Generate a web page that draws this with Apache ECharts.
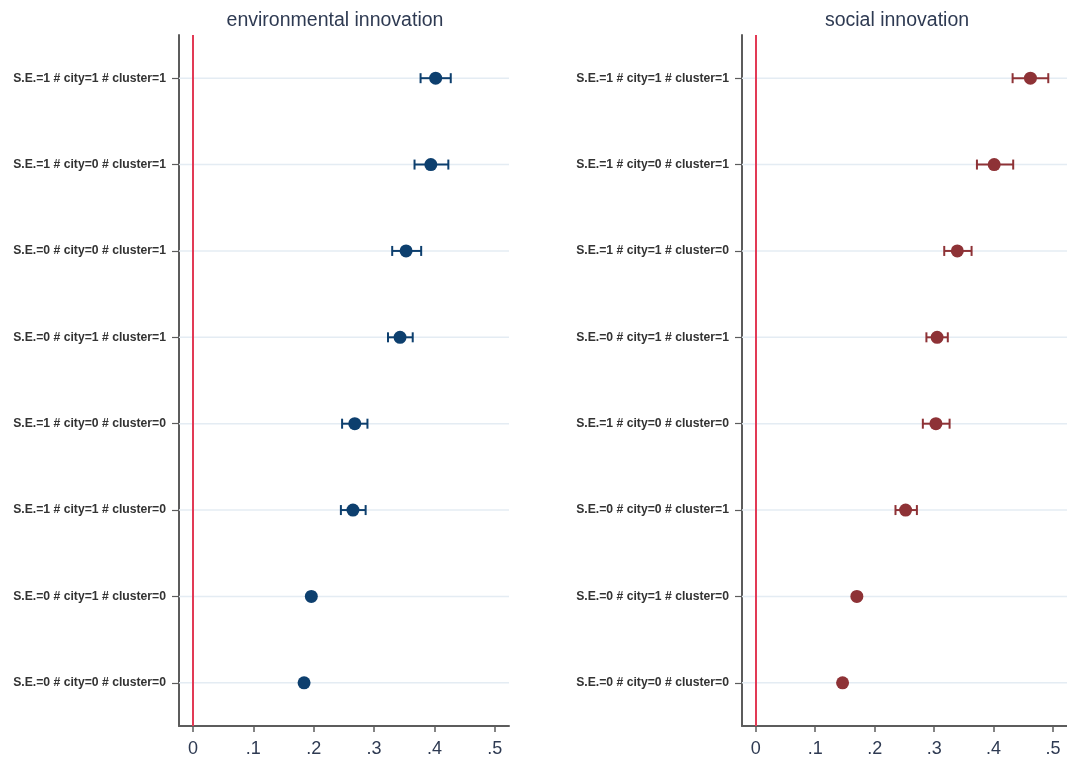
<!DOCTYPE html>
<html>
<head>
<meta charset="utf-8">
<script src="https://cdn.jsdelivr.net/npm/echarts@6/dist/echarts.min.js"></script>
<style>html,body{margin:0;padding:0;background:#fff}#c{width:1067px;height:765px}</style>
</head>
<body>
<div id="c"></div>
<script>
// ---- data ----
const envCategories = [
  'S.E.=1 # city=1 # cluster=1',
  'S.E.=1 # city=0 # cluster=1',
  'S.E.=0 # city=0 # cluster=1',
  'S.E.=0 # city=1 # cluster=1',
  'S.E.=1 # city=0 # cluster=0',
  'S.E.=1 # city=1 # cluster=0',
  'S.E.=0 # city=1 # cluster=0',
  'S.E.=0 # city=0 # cluster=0'
];
const envEstimate = [0.402, 0.394, 0.353, 0.343, 0.268, 0.265, 0.196, 0.184];
const envLower    = [0.377, 0.367, 0.330, 0.323, 0.247, 0.245, 0.191, 0.180];
const envUpper    = [0.427, 0.423, 0.378, 0.364, 0.289, 0.286, 0.201, 0.188];

const socCategories = [
  'S.E.=1 # city=1 # cluster=1',
  'S.E.=1 # city=0 # cluster=1',
  'S.E.=1 # city=1 # cluster=0',
  'S.E.=0 # city=1 # cluster=1',
  'S.E.=1 # city=0 # cluster=0',
  'S.E.=0 # city=0 # cluster=1',
  'S.E.=0 # city=1 # cluster=0',
  'S.E.=0 # city=0 # cluster=0'
];
const socEstimate = [0.462, 0.401, 0.339, 0.305, 0.303, 0.252, 0.170, 0.146];
const socLower    = [0.432, 0.372, 0.317, 0.287, 0.281, 0.235, 0.165, 0.142];
const socUpper    = [0.492, 0.433, 0.363, 0.323, 0.326, 0.271, 0.175, 0.150];

const xTicks = [0, 0.1, 0.2, 0.3, 0.4, 0.5];
const titles = ['environmental innovation', 'social innovation'];

// ---- styling / layout ----
const XMIN = -0.0232, XMAX = 0.5235;
const NAVY = '#0d3f6e', MAROON = '#8e3236', REFRED = '#e23a55';
const GRIDCOL = '#e4ecf3', AXISCOL = '#5c5c5c', TXT = '#2e3a52';

function panel(i, cats, est, lo, hi, color) {
  const idx = cats.map((_, k) => k);
  return [
    {
      type: 'custom', xAxisIndex: i, yAxisIndex: i, z: 1, silent: true,
      data: idx.map(k => [k]),
      encode: { y: 0 },
      renderItem: function (params, api) {
        const a = api.coord([XMIN, api.value(0)]);
        const b = api.coord([XMAX, api.value(0)]);
        return { type: 'line', shape: { x1: a[0], y1: a[1], x2: b[0], y2: b[1] },
                 style: { stroke: GRIDCOL, lineWidth: 1.5 } };
      }
    },
    {
      type: 'custom', xAxisIndex: i, yAxisIndex: i, z: 3, silent: true,
      data: idx.map(k => [lo[k], hi[k], k]),
      encode: { x: [0, 1], y: 2 },
      renderItem: function (params, api) {
        const a = api.coord([api.value(0), api.value(2)]);
        const b = api.coord([api.value(1), api.value(2)]);
        const h = 5;
        const st = { stroke: color, lineWidth: 2 };
        return { type: 'group', children: [
          { type: 'line', shape: { x1: a[0], y1: a[1], x2: b[0], y2: b[1] }, style: st },
          { type: 'line', shape: { x1: a[0], y1: a[1] - h, x2: a[0], y2: a[1] + h }, style: st },
          { type: 'line', shape: { x1: b[0], y1: b[1] - h, x2: b[0], y2: b[1] + h }, style: st }
        ]};
      }
    },
    {
      type: 'scatter', xAxisIndex: i, yAxisIndex: i, z: 4, silent: true,
      symbol: 'circle', symbolSize: 13,
      itemStyle: { color: color, opacity: 1 },
      data: idx.map(k => [est[k], k]),
      markLine: {
        silent: true, symbol: 'none', animation: false,
        label: { show: false },
        lineStyle: { color: REFRED, width: 2, type: 'solid' },
        data: [{ xAxis: 0 }]
      }
    }
  ];
}

const chart = echarts.init(document.getElementById('c'), null, { renderer: 'canvas' });
const gridTop = 35, gridH = 691, gridW = 330;
chart.setOption({
  animation: false,
  backgroundColor: '#ffffff',
  title: [
    { text: titles[0], left: 330, top: 6, textAlign: 'center',
      textStyle: { fontFamily: 'Liberation Sans', fontSize: 19.5, fontWeight: 'normal', color: TXT } },
    { text: titles[1], left: 892, top: 6, textAlign: 'center',
      textStyle: { fontFamily: 'Liberation Sans', fontSize: 19.5, fontWeight: 'normal', color: TXT } }
  ],
  grid: [
    { left: 179, top: gridTop, width: gridW, height: gridH },
    { left: 742, top: gridTop, width: gridW, height: gridH }
  ],
  xAxis: [0, 1].map(i => ({
    type: 'value', gridIndex: i, min: XMIN, max: XMAX,
    axisLine: { show: true, onZero: false, lineStyle: { color: AXISCOL, width: 2 } },
    axisTick: { show: true, length: 6, customValues: xTicks, lineStyle: { color: AXISCOL, width: 1.5 } },
    axisLabel: { customValues: xTicks, margin: 14, fontFamily: 'Liberation Sans', fontSize: 18, color: TXT,
      formatter: v => (Math.abs(v) < 1e-9 ? '0' : String(+v.toFixed(1)).replace(/^0\./, '.')) },
    splitLine: { show: false }
  })),
  yAxis: [[0, envCategories], [1, socCategories]].map(([i, cats]) => ({
    type: 'category', gridIndex: i, data: cats, inverse: true, boundaryGap: true,
    axisLine: { show: true, onZero: false, lineStyle: { color: AXISCOL, width: 2 } },
    axisTick: { show: true, length: 7, alignWithLabel: true, lineStyle: { color: AXISCOL, width: 1.2 } },
    axisLabel: { margin: 13, fontFamily: 'Liberation Sans', fontSize: 12.2, fontWeight: 'bold', color: '#333' },
    splitLine: { show: false }
  })),
  series: [
    ...panel(0, envCategories, envEstimate, envLower, envUpper, NAVY),
    ...panel(1, socCategories, socEstimate, socLower, socUpper, MAROON)
  ]
});
</script>
</body>
</html>
